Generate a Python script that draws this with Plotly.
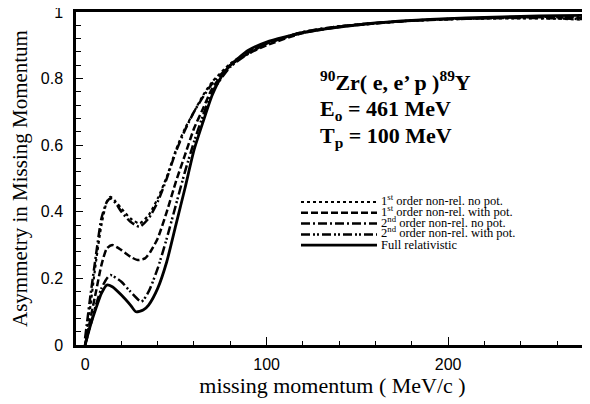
import plotly.graph_objects as go

# missing momentum (MeV/c)
x_solid = [0, 3, 6, 9, 12, 15, 20, 25, 28, 32, 35, 40, 45, 50, 55, 60, 65, 70, 75, 80, 90, 100,
           120, 140, 160, 180, 200, 220, 240, 260, 278]
y_solid = [0.0, 0.06, 0.11, 0.155, 0.18, 0.175, 0.15, 0.12, 0.10, 0.105, 0.12, 0.17, 0.25, 0.36,
           0.47, 0.585, 0.67, 0.75, 0.805, 0.84, 0.885, 0.91,
           0.938, 0.955, 0.967, 0.975, 0.98, 0.984, 0.987, 0.989, 0.99]

x_dot = [0, 3, 6, 9, 12, 14, 17, 20, 25, 30, 35, 40, 45, 50, 55, 60, 65, 70, 80, 90, 100,
         120, 140, 160, 180, 200, 220, 240, 260, 278]
y_dot = [0.0, 0.12, 0.25, 0.36, 0.43, 0.445, 0.43, 0.41, 0.38, 0.365, 0.39, 0.44, 0.505, 0.585,
         0.65, 0.70, 0.75, 0.79, 0.845, 0.88, 0.905,
         0.94, 0.957, 0.967, 0.974, 0.978, 0.98, 0.981, 0.98, 0.976]

x_dash = [0, 3, 6, 9, 12, 15, 20, 25, 29, 33, 36, 40, 45, 50, 55, 60, 65, 70, 80, 90, 100,
          120, 140, 160, 180, 200, 220, 240, 260, 278]
y_dash = [0.0, 0.08, 0.16, 0.24, 0.29, 0.30, 0.285, 0.265, 0.255, 0.26, 0.28, 0.32, 0.40, 0.49,
          0.57, 0.65, 0.71, 0.77, 0.84, 0.875, 0.90,
          0.937, 0.955, 0.966, 0.974, 0.979, 0.982, 0.984, 0.984, 0.982]

x_dashdot = [0, 3, 6, 9, 12, 14, 17, 20, 25, 30, 35, 40, 45, 50, 55, 60, 65, 70, 80, 90, 100,
             120, 140, 160, 180, 200, 220, 240, 260, 278]
y_dashdot = [0.02, 0.15, 0.27, 0.38, 0.43, 0.44, 0.425, 0.40, 0.37, 0.355, 0.38, 0.43, 0.50,
             0.58, 0.645, 0.70, 0.745, 0.785, 0.84, 0.878, 0.905,
             0.94, 0.957, 0.967, 0.974, 0.978, 0.981, 0.982, 0.981, 0.978]

x_dd = [0, 3, 6, 9, 12, 14, 20, 25, 31, 35, 40, 45, 50, 55, 60, 65, 70, 80, 90, 100,
        120, 140, 160, 180, 200, 220, 240, 260, 278]
y_dd = [0.0, 0.06, 0.12, 0.17, 0.20, 0.21, 0.19, 0.16, 0.13, 0.16, 0.23, 0.32, 0.42, 0.52,
        0.61, 0.69, 0.76, 0.835, 0.875, 0.905,
        0.938, 0.956, 0.966, 0.974, 0.979, 0.982, 0.985, 0.986, 0.985]

names = ["1<sup>st</sup> order non-rel. no pot.",
         "1<sup>st</sup> order non-rel. with pot.",
         "2<sup>nd</sup> order non-rel. no pot.",
         "2<sup>nd</sup> order non-rel. with pot.",
         "Full relativistic"]

x_ticks = [0, 100, 200]
y_ticks = [0, 0.2, 0.4, 0.6, 0.8, 1]
y_ticklabels = ["0", "0.2", "0.4", "0.6", "0.8", "1"]

serif = "Liberation Serif, Times New Roman, serif"
sans = "Liberation Sans, Arial, sans-serif"

styles = [dict(dash="dot", width=2.2),
          dict(dash="7px,3px", width=2.5),
          dict(dash="9px,3px,2px,3px", width=2.5),
          dict(dash="9px,3px,2px,2px,2px,3px", width=2.5),
          dict(dash="solid", width=2.8)]
series = [(x_dot, y_dot), (x_dash, y_dash), (x_dashdot, y_dashdot), (x_dd, y_dd), (x_solid, y_solid)]

# page has an 8px body margin: size the figure so it fills the 590x404 window
OFF = 8
W, H = 590 - OFF, 404 - OFF
ML, MR, MT, MB = 76 - OFF, 1, 12 - OFF, 59
PW, PH = W - ML - MR, H - MT - MB


def px2paper(px, py):
    """page pixel -> paper coordinate"""
    return (px - OFF - ML) / PW, (H - MB - (py - OFF)) / PH


fig = go.Figure()
for (xs, ys), nm, ln in zip(series, names, styles):
    fig.add_trace(go.Scatter(x=xs, y=ys, mode="lines", name=nm, showlegend=False,
                             line=dict(color="black", shape="spline", smoothing=0.6, **ln)))

# manual legend (long line samples like the original)
shapes = []
annotations = []
row_y = [202, 212.8, 223.6, 234.4, 245.2]
for i, (nm, ln, ry) in enumerate(zip(names, styles, row_y)):
    x0, y0 = px2paper(301, ry)
    x1, _ = px2paper(377, ry)
    shapes.append(dict(type="line", xref="paper", yref="paper", x0=x0, x1=x1, y0=y0, y1=y0,
                       line=dict(color="black", dash=ln["dash"], width=ln["width"])))
    shift = 2 if "<sup>" in nm else 0
    tx, ty = px2paper(379, ry - shift)
    annotations.append(dict(xref="paper", yref="paper", x=tx, y=ty, xanchor="left",
                            yanchor="middle", showarrow=False, text=nm,
                            font=dict(family=serif, size=12.5, color="black")))

info = ["<b><sup>90</sup>Zr( e, e’ p )<sup>89</sup>Y</b>",
        "<b>E<sub>o</sub> = 461 MeV</b>",
        "<b>T<sub>p</sub> = 100 MeV</b>"]
info_y = [81, 110, 137]
for t, py in zip(info, info_y):
    ax, ay = px2paper(318, py)
    annotations.append(dict(xref="paper", yref="paper", x=ax, y=ay, xanchor="left",
                            yanchor="middle", showarrow=False, align="left", text=t,
                            font=dict(family=serif, size=22, color="black")))

fig.update_layout(
    width=W, height=H,
    margin=dict(l=ML, r=MR, t=MT, b=MB, autoexpand=False),
    paper_bgcolor="white", plot_bgcolor="white",
    showlegend=False,
    shapes=shapes,
    annotations=annotations,
)

fig.update_xaxes(
    range=[-5, 277.6], tickvals=x_ticks, ticktext=[str(v) for v in x_ticks],
    showgrid=False, zeroline=False, automargin=False,
    showline=True, linecolor="black", linewidth=2.5, mirror=True,
    ticks="inside", ticklen=8, tickwidth=1, tickcolor="black",
    minor=dict(dtick=20, tick0=0, ticks="inside", ticklen=4, tickcolor="black", showgrid=False),
    tickfont=dict(family=sans, size=16, color="black"),
    ticklabelstandoff=3, ticklabeloverflow="allow",
    title=dict(text="missing momentum ( MeV/c )", font=dict(family=serif, size=22, color="black"),
               standoff=0),
)
fig.update_yaxes(
    range=[0, 1], tickvals=y_ticks, ticktext=y_ticklabels,
    showgrid=False, zeroline=False, automargin=False,
    showline=True, linecolor="black", linewidth=2.5, mirror="ticks",
    ticks="inside", ticklen=7, tickwidth=1, tickcolor="black",
    minor=dict(dtick=0.04, tick0=0, ticks="inside", ticklen=5, tickcolor="black", showgrid=False),
    tickfont=dict(family=sans, size=16, color="black"),
    ticklabelstandoff=7, ticklabeloverflow="allow",
    title=dict(text="Asymmetry in Missing Momentum", font=dict(family=serif, size=21, color="black"),
               standoff=19),
)

fig.write_html("out.html")
